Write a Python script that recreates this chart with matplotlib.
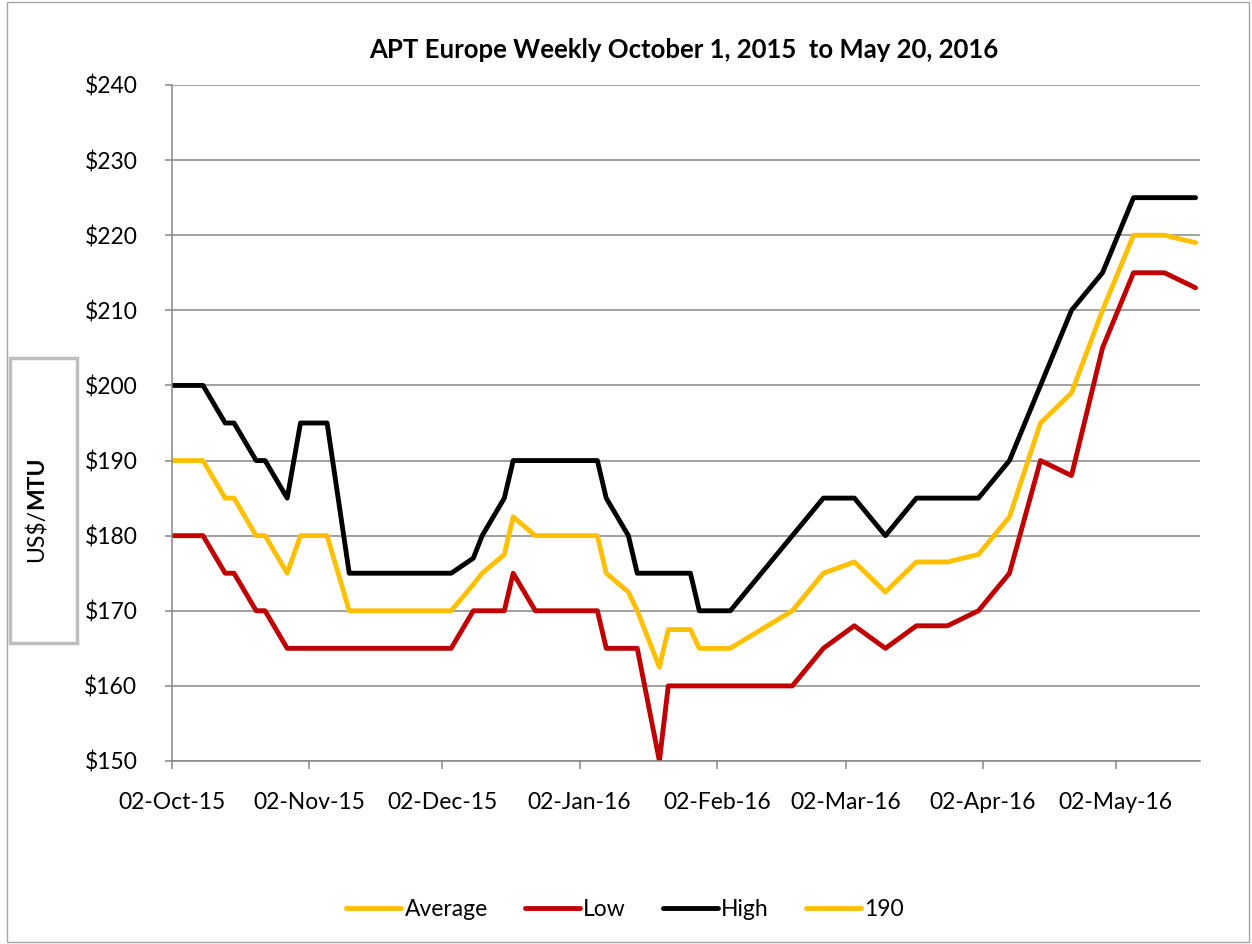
import matplotlib
matplotlib.use("Agg")
import matplotlib.pyplot as plt
import matplotlib.dates as mdates
from matplotlib.patches import Rectangle
from matplotlib.ticker import FuncFormatter, MultipleLocator
import pandas as pd

plt.rcParams['font.family'] = ['Lato', 'DejaVu Sans']

# weekly-ish price points
dates = pd.to_datetime([
    "2015-10-02", "2015-10-09", "2015-10-14", "2015-10-16", "2015-10-21", "2015-10-23",
    "2015-10-28", "2015-10-31", "2015-11-06", "2015-11-11", "2015-12-04", "2015-12-09",
    "2015-12-11", "2015-12-16", "2015-12-18", "2015-12-23", "2016-01-06", "2016-01-08",
    "2016-01-13", "2016-01-15", "2016-01-20", "2016-01-22", "2016-01-27", "2016-01-29",
    "2016-02-05", "2016-02-12", "2016-02-19", "2016-02-26", "2016-03-04", "2016-03-11",
    "2016-03-18", "2016-03-25", "2016-04-01", "2016-04-08", "2016-04-15", "2016-04-22",
    "2016-04-29", "2016-05-06", "2016-05-13", "2016-05-20",
])

high = [200, 200, 195, 195, 190, 190, 185, 195, 195, 175, 175, 177,
        180, 185, 190, 190, 190, 185, 180, 175, 175, 175, 175, 170,
        170, 175, 180, 185, 185, 180, 185, 185, 185, 190, 200, 210,
        215, 225, 225, 225]

low = [180, 180, 175, 175, 170, 170, 165, 165, 165, 165, 165, 170,
       170, 170, 175, 170, 170, 165, 165, 165, 150, 160, 160, 160,
       160, 160, 160, 165, 168, 165, 168, 168, 170, 175, 190, 188,
       205, 215, 215, 213]

average = [190, 190, 185, 185, 180, 180, 175, 180, 180, 170, 170, 173.5,
           175, 177.5, 182.5, 180, 180, 175, 172.5, 170, 162.5, 167.5, 167.5, 165,
           165, 167.5, 170, 175, 176.5, 172.5, 176.5, 176.5, 177.5, 182.5, 195, 199,
           210, 220, 220, 219]

series_190 = []  # listed in the legend, nothing visible on the chart

W, H = 1252, 944
fig = plt.figure(figsize=(W / 100, H / 100), dpi=100)

# outer chart border
fig.patches.append(Rectangle((7 / W, 2 / H), 1242 / W, 940 / H, transform=fig.transFigure,
                             fill=False, edgecolor='#a6a6a6', linewidth=1.0))

ax = fig.add_axes([172 / W, (H - 761) / H, (1200 - 172) / W, (761 - 85) / H])

lw = 3.5
style = dict(lw=lw, solid_capstyle='round', solid_joinstyle='round')
ax.plot(dates, average, color='#FFC000', label='Average', **style)
ax.plot(dates, low, color='#C00000', label='Low', **style)
ax.plot(dates, high, color='#000000', label='High', **style)
ax.plot(dates[:len(series_190)], series_190, color='#FFC000', label='190', **style)

ax.set_xlim(pd.Timestamp("2015-10-02"), pd.Timestamp("2016-05-21"))
ax.set_ylim(150, 240)
ax.yaxis.set_major_locator(MultipleLocator(10))
ax.yaxis.set_major_formatter(FuncFormatter(lambda v, p: f"${v:.0f}"))
ax.xaxis.set_major_locator(mdates.MonthLocator(bymonthday=2))
ax.xaxis.set_major_formatter(mdates.DateFormatter('%d-%b-%y'))

ax.grid(axis='y', color='#868686', linewidth=1.1)
ax.set_axisbelow(True)
for s in ['top', 'right']:
    ax.spines[s].set_visible(False)
for s in ['left', 'bottom']:
    ax.spines[s].set_color('#868686')
    ax.spines[s].set_linewidth(1.1)
ax.tick_params(axis='y', length=5, width=1.1, color='#868686', pad=20, labelsize=16.5)
ax.tick_params(axis='x', length=6, width=1.1, color='#868686', pad=16, labelsize=16.5)

fig.text(684 / W, (H - 50) / H, "APT Europe Weekly October 1, 2015  to May 20, 2016",
         ha='center', va='center', fontsize=18.5, fontweight='bold')

# y axis title in its own box: "US$/" regular, "MTU" bold
fig.patches.append(Rectangle((10 / W, (H - 643) / H), 67 / W, 285 / H, transform=fig.transFigure,
                             facecolor='white', edgecolor='#bfbfbf', linewidth=2.5))
t1 = fig.text(37 / W, (H - 562) / H, "US$/", rotation=90, ha='center', va='bottom', fontsize=16.5)
renderer = fig.canvas.get_renderer()
bb = t1.get_window_extent(renderer)
fig.text(37 / W, bb.y1 / H, "MTU", rotation=90, ha='center', va='bottom', fontsize=16.5,
         fontweight='bold')

fig.legend(loc='center', bbox_to_anchor=(625 / W, (H - 910) / H), ncol=4, frameon=False,
           fontsize=16.5, handlelength=2.4, handletextpad=0.15, columnspacing=1.6)

fig.savefig("out.png", dpi=100)
